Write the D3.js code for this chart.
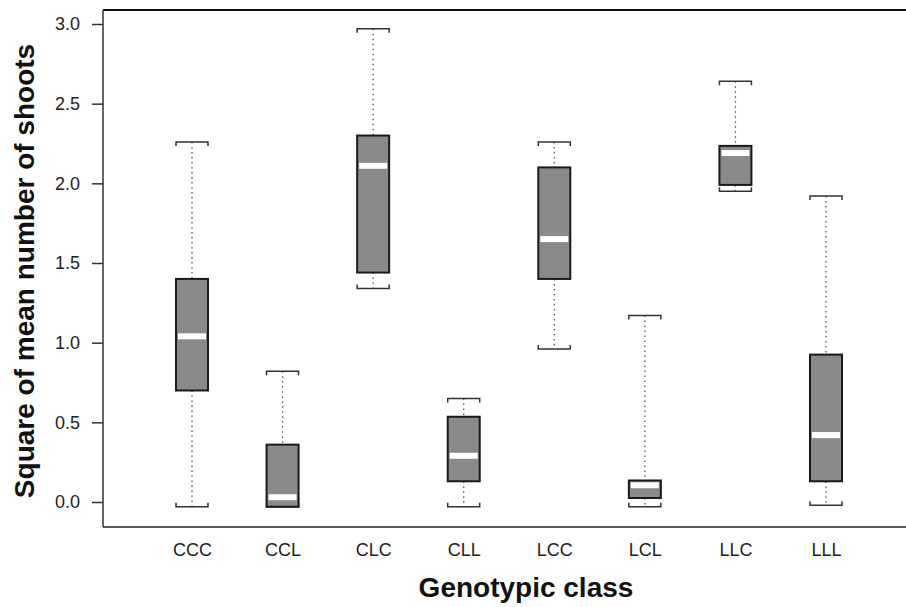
<!DOCTYPE html>
<html><head><meta charset="utf-8">
<script src="https://cdn.jsdelivr.net/npm/d3@7"></script>
<style>body{margin:0;background:#fff;} svg{display:block;}</style>
</head><body>
<svg id="c" width="906" height="607"></svg>
<script>
const categories = ["CCC","CCL","CLC","CLL","LCC","LCL","LLC","LLL"];
const whiskerLow  = [-0.03,-0.03, 1.34,-0.03, 0.96,-0.03, 1.95,-0.02];
const q1          = [ 0.70,-0.03, 1.44, 0.13, 1.40, 0.025,1.99, 0.13];
const median      = [ 1.04, 0.03, 2.11, 0.29, 1.65, 0.105,2.19, 0.42];
const q3          = [ 1.40, 0.36, 2.30, 0.535,2.10, 0.135,2.235,0.925];
const whiskerHigh = [ 2.26, 0.82, 2.97, 0.65, 2.26, 1.17, 2.64, 1.92];
const yTicks = [0,0.5,1,1.5,2,2.5,3];

(function(){
const svg = d3.select("#c");
const pLeft = 103, pTop = 10, pBottom = 527, pRight = 906;
const x = d3.scalePoint().domain(categories).range([192, 826]);
const y = d3.scaleLinear().domain([0,3]).range([502, 24]);
const bw = 32;
const font = "Liberation Sans, Arial, Helvetica, sans-serif";

// frame
svg.append("line").attr("x1",pLeft).attr("x2",pRight).attr("y1",pTop).attr("y2",pTop).attr("stroke","#111").attr("stroke-width",2);
svg.append("line").attr("x1",pLeft).attr("x2",pRight).attr("y1",pBottom).attr("y2",pBottom).attr("stroke","#222").attr("stroke-width",1.5);
svg.append("line").attr("x1",pLeft).attr("x2",pLeft).attr("y1",pTop).attr("y2",pBottom).attr("stroke","#333").attr("stroke-width",1.5);

// y axis
const yAxis = d3.axisLeft(y).tickValues(yTicks).tickFormat(d3.format(".1f")).tickSize(11).tickPadding(12);
const ga = svg.append("g").attr("transform",`translate(${pLeft},0)`).call(yAxis);
ga.select(".domain").remove();
ga.selectAll(".tick line").attr("stroke","#333").attr("stroke-width",1.5);
ga.selectAll(".tick text").attr("font-family",font).attr("font-size",18).attr("fill","#222");

// x labels
const gx = svg.append("g").attr("transform",`translate(0,${pBottom})`)
  .call(d3.axisBottom(x).tickSize(0).tickPadding(16));
gx.select(".domain").remove();
gx.selectAll(".tick text").attr("font-family",font).attr("font-size",18).attr("fill","#222");

// titles
svg.append("text").attr("x",526).attr("y",597).attr("text-anchor","middle")
  .attr("font-family",font).attr("font-weight","bold").attr("font-size",28).attr("fill","#111")
  .text("Genotypic class");
svg.append("text").attr("transform","translate(34,271) rotate(-90)").attr("text-anchor","middle")
  .attr("font-family",font).attr("font-weight","bold").attr("font-size",28).attr("fill","#111")
  .text("Square of mean number of shoots");

const data = categories.map((c,i)=>({c, lo:whiskerLow[i], q1:q1[i], md:median[i], q3:q3[i], hi:whiskerHigh[i]}));
const g = svg.append("g").selectAll("g").data(data).join("g");

// whiskers (dotted)
g.append("line").attr("x1",d=>x(d.c)).attr("x2",d=>x(d.c))
  .attr("y1",d=>y(d.hi)).attr("y2",d=>y(d.q3))
  .attr("stroke","#555").attr("stroke-width",1.3).attr("stroke-dasharray","1.5,3.5");
g.append("line").attr("x1",d=>x(d.c)).attr("x2",d=>x(d.c))
  .attr("y1",d=>y(d.q1)).attr("y2",d=>y(d.lo))
  .attr("stroke","#555").attr("stroke-width",1.3).attr("stroke-dasharray","1.5,3.5");

// caps (brackets)
g.append("path").attr("fill","none").attr("stroke","#333").attr("stroke-width",1.5)
  .attr("d",d=>{const cx=x(d.c), yy=y(d.hi); return `M${cx-bw/2},${yy+4}V${yy}H${cx+bw/2}V${yy+4}`;});
g.append("path").attr("fill","none").attr("stroke","#333").attr("stroke-width",1.5)
  .attr("d",d=>{const cx=x(d.c), yy=y(d.lo); return `M${cx-bw/2},${yy-4}V${yy}H${cx+bw/2}V${yy-4}`;});

// boxes
g.append("rect").attr("x",d=>x(d.c)-bw/2).attr("width",bw)
  .attr("y",d=>y(d.q3)).attr("height",d=>y(d.q1)-y(d.q3))
  .attr("fill","#8a8a8a").attr("stroke","#1a1a1a").attr("stroke-width",2);

// median band (white)
g.append("rect").attr("x",d=>x(d.c)-bw/2+2).attr("width",bw-4)
  .attr("y",d=>y(d.md)-3).attr("height",6).attr("fill","#fff");
})();
</script>
</body></html>
